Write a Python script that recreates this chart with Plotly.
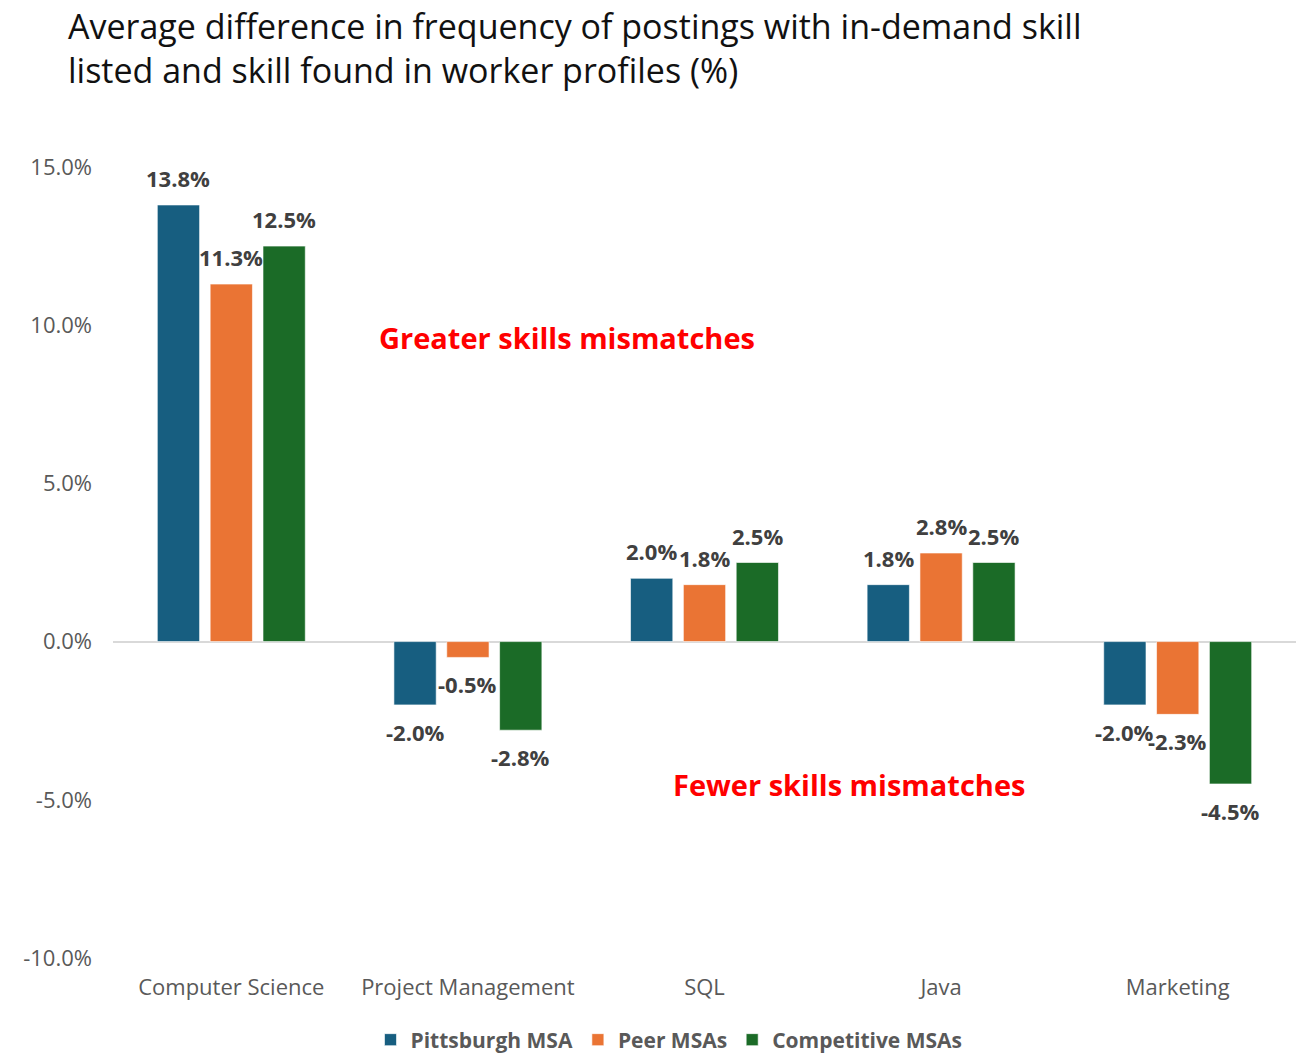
import plotly.graph_objects as go

# Skills and the average posting-vs-profile gap (percentage points)
skills = ["Computer Science", "Project Management", "SQL", "Java", "Marketing"]
pittsburgh = [13.8, -2.0, 2.0, 1.8, -2.0]
peer = [11.3, -0.5, 1.8, 2.8, -2.3]
competitive = [12.5, -2.8, 2.5, 2.5, -4.5]

series_names = ["Pittsburgh MSA", "Peer MSAs", "Competitive MSAs"]
series_values = [pittsburgh, peer, competitive]
series_colors = ["#175E80", "#EA7434", "#1B6B27"]

y_ticks = [-10, -5, 0, 5, 10, 15]
y_tick_text = [f"{v:.1f}%" for v in y_ticks]

FONT = "Open Sans"
LABEL_GRAY = "#404040"
AXIS_GRAY = "#595959"

W, H = 1296, 1053
M_L, M_R, M_T, M_B = 113, 0, 167, 95
BARGAP = 0.33
BARGROUPGAP = 0.2

fig = go.Figure()
for name, vals, col in zip(series_names, series_values, series_colors):
    fig.add_trace(go.Bar(
        x=skills, y=vals, name=name,
        marker=dict(color=col, line=dict(color="rgba(255,255,255,0.6)", width=1)),
    ))

# value labels just beyond the end of each bar
plot_w = W - M_L - M_R
plot_h = H - M_T - M_B
cat_w = plot_w / len(skills)
slot = cat_w * (1 - BARGAP) / len(series_values)
for j, vals in enumerate(series_values):
    for skill, v in zip(skills, vals):
        fig.add_annotation(
            x=skill, y=v, xref="x", yref="y",
            text=f"{v:.1f}%", showarrow=False,
            xshift=(j - 1) * slot, yshift=27 if v >= 0 else -27,
            font=dict(family=FONT, size=22, color=LABEL_GRAY, weight="bold"),
        )

fig.add_annotation(
    x=0.384, y=9.6, xref="paper", yref="y", showarrow=False,
    text="Greater skills mismatches",
    font=dict(family=FONT, size=29, color="#FF0000", weight="bold"),
)
fig.add_annotation(
    x=0.622, y=-4.52, xref="paper", yref="y", showarrow=False,
    text="Fewer skills mismatches",
    font=dict(family=FONT, size=29, color="#FF0000", weight="bold"),
)

# chart title, two lines at the top-left
fig.add_annotation(
    x=(66 - M_L) / plot_w, y=1 + (M_T - 1) / plot_h,
    xref="paper", yref="paper", xanchor="left", yanchor="top", align="left",
    showarrow=False,
    text="Average difference in frequency of postings with in-demand skill<br>"
         "listed and skill found in worker profiles (%)",
    font=dict(family=FONT, size=34, color="#111111"),
)

fig.update_layout(
    width=W, height=H,
    margin=dict(l=M_L, r=M_R, t=M_T, b=M_B),
    paper_bgcolor="white", plot_bgcolor="white",
    barmode="group", bargap=BARGAP, bargroupgap=BARGROUPGAP,
    showlegend=True,
    legend=dict(
        orientation="h", xref="container", yref="container",
        x=669 / W, xanchor="center", y=(H - 1040) / H, yanchor="middle",
        font=dict(family=FONT, size=21, color=AXIS_GRAY, weight="bold"),
        itemwidth=30,
    ),
    xaxis=dict(
        showgrid=False, showline=False, ticks="",
        tickfont=dict(family=FONT, size=22, color=AXIS_GRAY),
        ticklabelstandoff=14,
    ),
    yaxis=dict(
        range=[-10, 15], tickvals=y_ticks, ticktext=y_tick_text,
        showgrid=False, zeroline=True, zerolinecolor="#D9D9D9", zerolinewidth=2,
        showline=False, ticks="",
        tickfont=dict(family=FONT, size=22, color=AXIS_GRAY),
        ticklabelstandoff=20,
    ),
)

fig.write_html("out.html")
